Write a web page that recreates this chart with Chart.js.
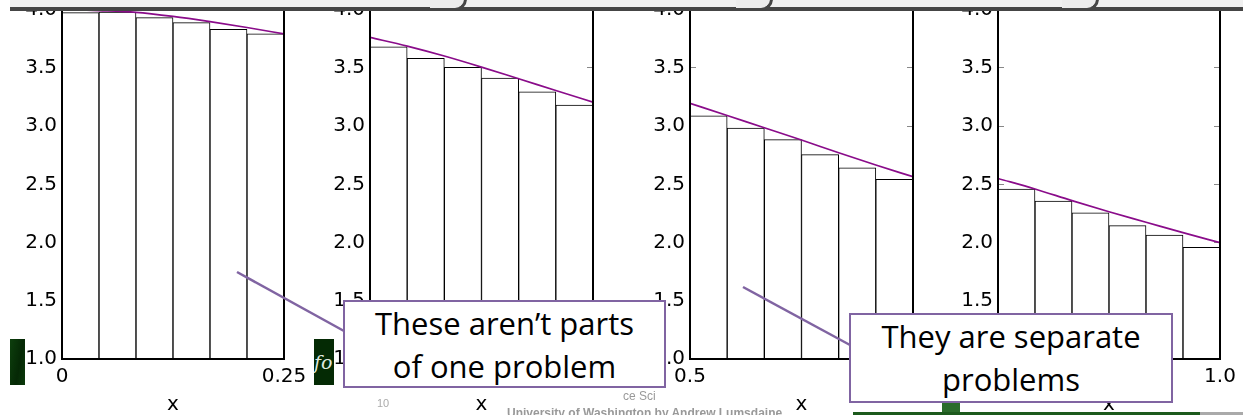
<!DOCTYPE html>
<html><head><meta charset="utf-8">
<script src="https://cdn.jsdelivr.net/npm/chart.js@4"></script>
<style>
html,body{margin:0;padding:0;background:#fff;}
#stage{position:relative;width:1243px;height:415px;overflow:hidden;background:#fff;}
canvas.panel{position:absolute;top:0;}
.ov{position:absolute;}
.box{position:absolute;box-sizing:border-box;border:2.5px solid #8064A2;background:#fff;
  font-family:"Open Sans",sans-serif;font-size:31px;line-height:42.5px;text-align:center;color:#000;white-space:nowrap;}
.foot{position:absolute;font-family:"Liberation Sans",Arial,sans-serif;color:#999;white-space:nowrap;}
</style></head><body>
<div id="stage">
  <canvas id="p1" class="panel"></canvas>
  <canvas id="p2" class="panel"></canvas>
  <canvas id="p3" class="panel"></canvas>
  <canvas id="p4" class="panel"></canvas>

  <!-- slide header band -->
  <div class="ov" style="left:10px;top:0;width:1233px;height:7px;background:#f0f0f0;"></div>
  <div class="ov" style="left:10px;top:7px;width:1233px;height:3.5px;background:#454545;"></div>
  <div class="ov" style="left:430px;top:-14px;width:34px;height:22px;border-right:3px solid #454545;border-bottom:3px solid #454545;border-bottom-right-radius:12px;background:#ececec;"></div>
  <div class="ov" style="left:736px;top:-14px;width:34px;height:22px;border-right:3px solid #454545;border-bottom:3px solid #454545;border-bottom-right-radius:12px;background:#ececec;"></div>
  <div class="ov" style="left:1062px;top:-14px;width:34px;height:22px;border-right:3px solid #454545;border-bottom:3px solid #454545;border-bottom-right-radius:12px;background:#ececec;"></div>

  <!-- slide decorations -->
  <div class="ov" style="left:10px;top:339px;width:15px;height:46px;background:linear-gradient(100deg,#0d3f0d,#052805 60%,#0b3a0b);"></div>
  <div class="ov" style="left:314px;top:339px;width:20px;height:46px;background:#042a04;overflow:hidden;color:#dfe8df;font-family:'DejaVu Serif',serif;font-style:italic;font-size:19px;line-height:46px;">fo</div>
  <div class="ov" style="left:853px;top:412px;width:347px;height:3px;background:#1d5a1d;"></div>
  <div class="ov" style="left:1200px;top:412px;width:43px;height:3px;background:#aaa;"></div>
  <div class="ov" style="left:942px;top:403px;width:18px;height:9px;background:#2b6b2b;"></div>

  <svg class="ov" style="left:0;top:0;" width="1243" height="415">
    <line x1="237" y1="272" x2="344" y2="331" stroke="#8064A2" stroke-width="2.5"/>
    <line x1="743" y1="287" x2="850" y2="345" stroke="#8064A2" stroke-width="2.5"/>
  </svg>

  <div class="foot" style="left:377px;top:397px;font-size:11px;color:#aaa;">10</div>
  <div class="foot" style="left:623px;top:389px;font-size:12px;">ce Sci</div>
  <div class="foot" style="left:507px;top:406px;font-size:12px;font-weight:bold;">University of Washington by Andrew Lumsdaine</div>

  <div class="box" style="left:343px;top:300px;width:323px;height:88px;">These aren’t parts<br>of one problem</div>
  <div class="box" style="left:849px;top:313px;width:324px;height:90px;">They are separate<br>problems</div>
</div>
<script>
// ---- data ----
const categories = ['1', '2', '3', '4', '5', '6'];          // sub-intervals of each panel
const yTickValues = [1.0, 1.5, 2.0, 2.5, 3.0, 3.5, 4.0];
const yTickLabels = ['1.0', '1.5', '2.0', '2.5', '3.0', '3.5', '4.0'];

const xRange1 = [0, 0.25],   xTicks1 = ['0', '0.25'];
const xRange2 = [0.25, 0.5], xTicks2 = ['0.25', '0.5'];
const xRange3 = [0.5, 0.75], xTicks3 = ['0.5', '0.75'];
const xRange4 = [0.75, 1.0], xTicks4 = ['0.75', '1.0'];

const bars1 = [3.972, 3.978, 3.929, 3.886, 3.829, 3.790];
const bars2 = [3.680, 3.580, 3.503, 3.410, 3.294, 3.180];
const bars3 = [3.088, 2.983, 2.883, 2.754, 2.642, 2.543];
const bars4 = [2.458, 2.357, 2.256, 2.145, 2.065, 1.960];

const curveX1 = [0, 0.0417, 0.0833, 0.125, 0.1667, 0.2083, 0.25];
const curveX2 = [0.25, 0.2917, 0.3333, 0.375, 0.4167, 0.4583, 0.5];
const curveX3 = [0.5, 0.5417, 0.5833, 0.625, 0.6667, 0.7083, 0.75];
const curveX4 = [0.75, 0.7917, 0.8333, 0.875, 0.9167, 0.9583, 1.0];
const curve1 = [4.000, 3.990, 3.975, 3.940, 3.895, 3.845, 3.790];
const curve2 = [3.760, 3.685, 3.600, 3.505, 3.405, 3.305, 3.205];
const curve3 = [3.195, 3.090, 2.985, 2.880, 2.770, 2.665, 2.565];
const curve4 = [2.550, 2.460, 2.360, 2.265, 2.175, 2.085, 2.000];

// ---- layout / style ----
const AXW = 62, RP = 26, TOP = 9.4, BOTTOM = 359.2, H = 415;
const FONT = {family: 'DejaVu Sans', size: 20};

function makePanel(id, left, areaW, bars, cx, cy, range, xt) {
  const cv = document.getElementById(id);
  cv.width = AXW + areaW + RP; cv.height = H;
  cv.style.left = (left - AXW) + 'px';
  const tickGrid = {drawOnChartArea: false, drawTicks: true, tickLength: -6, color: '#888', tickColor: '#888', lineWidth: 1, offset: false};
  const spine = {display: true, color: '#000', width: 2, z: 1};
  new Chart(cv, {
    type: 'bar',
    data: {
      labels: categories,
      datasets: [
        {type: 'line', data: cx.map((x, i) => ({x: x, y: cy[i]})), xAxisID: 'xl', yAxisID: 'y',
         borderColor: '#8a0c8a', borderWidth: 1.7, pointRadius: 0, cubicInterpolationMode: 'monotone', fill: false, order: 0},
        {type: 'bar', data: bars, xAxisID: 'x', yAxisID: 'y', backgroundColor: '#ffffff', borderColor: '#000000',
         borderWidth: 1, borderSkipped: 'start', barPercentage: 1, categoryPercentage: 1, grouped: false, order: 1}
      ]
    },
    options: {
      responsive: false, animation: false, events: [],
      layout: {padding: {left: 0, top: TOP, right: RP, bottom: 0}},
      plugins: {legend: {display: false}, tooltip: {enabled: false}},
      scales: {
        x: {type: 'category', display: false, offset: true},
        xl: {type: 'linear', position: 'bottom', min: range[0], max: range[1], offset: false,
          afterBuildTicks: s => { s.ticks = range.map(v => ({value: v})); },
          afterFit: s => { s.height = H - BOTTOM; s.paddingLeft = 0; s.paddingRight = 0; },
          ticks: {callback: (v, i) => xt[i], font: FONT, color: '#000', padding: 11.5, maxRotation: 0, autoSkip: false},
          grid: tickGrid, border: spine,
          title: {display: true, text: 'x', font: {family: 'DejaVu Sans', size: 20, lineHeight: 1}, color: '#000', padding: {top: 0, bottom: 0}}
        },
        y: {type: 'linear', position: 'left', min: 1, max: 4,
          afterBuildTicks: s => { s.ticks = yTickValues.map(v => ({value: v})); },
          afterFit: s => { s.width = AXW; s.paddingTop = 0; s.paddingBottom = 0; },
          ticks: {callback: (v, i) => yTickLabels[i], font: FONT, color: '#000', padding: 11},
          grid: tickGrid, border: spine
        },
        y2: {type: 'linear', position: 'right', min: 1, max: 4,
          afterBuildTicks: s => { s.ticks = yTickValues.map(v => ({value: v})); },
          afterFit: s => { s.width = 0; s.paddingTop = 0; s.paddingBottom = 0; },
          ticks: {display: false},
          grid: tickGrid, border: spine
        }
      }
    }
  });
}

makePanel('p1', 62,  222, bars1, curveX1, curve1, xRange1, xTicks1);
makePanel('p2', 370, 223, bars2, curveX2, curve2, xRange2, xTicks2);
makePanel('p3', 690, 223, bars3, curveX3, curve3, xRange3, xTicks3);
makePanel('p4', 998, 222, bars4, curveX4, curve4, xRange4, xTicks4);
</script>
</body></html>
